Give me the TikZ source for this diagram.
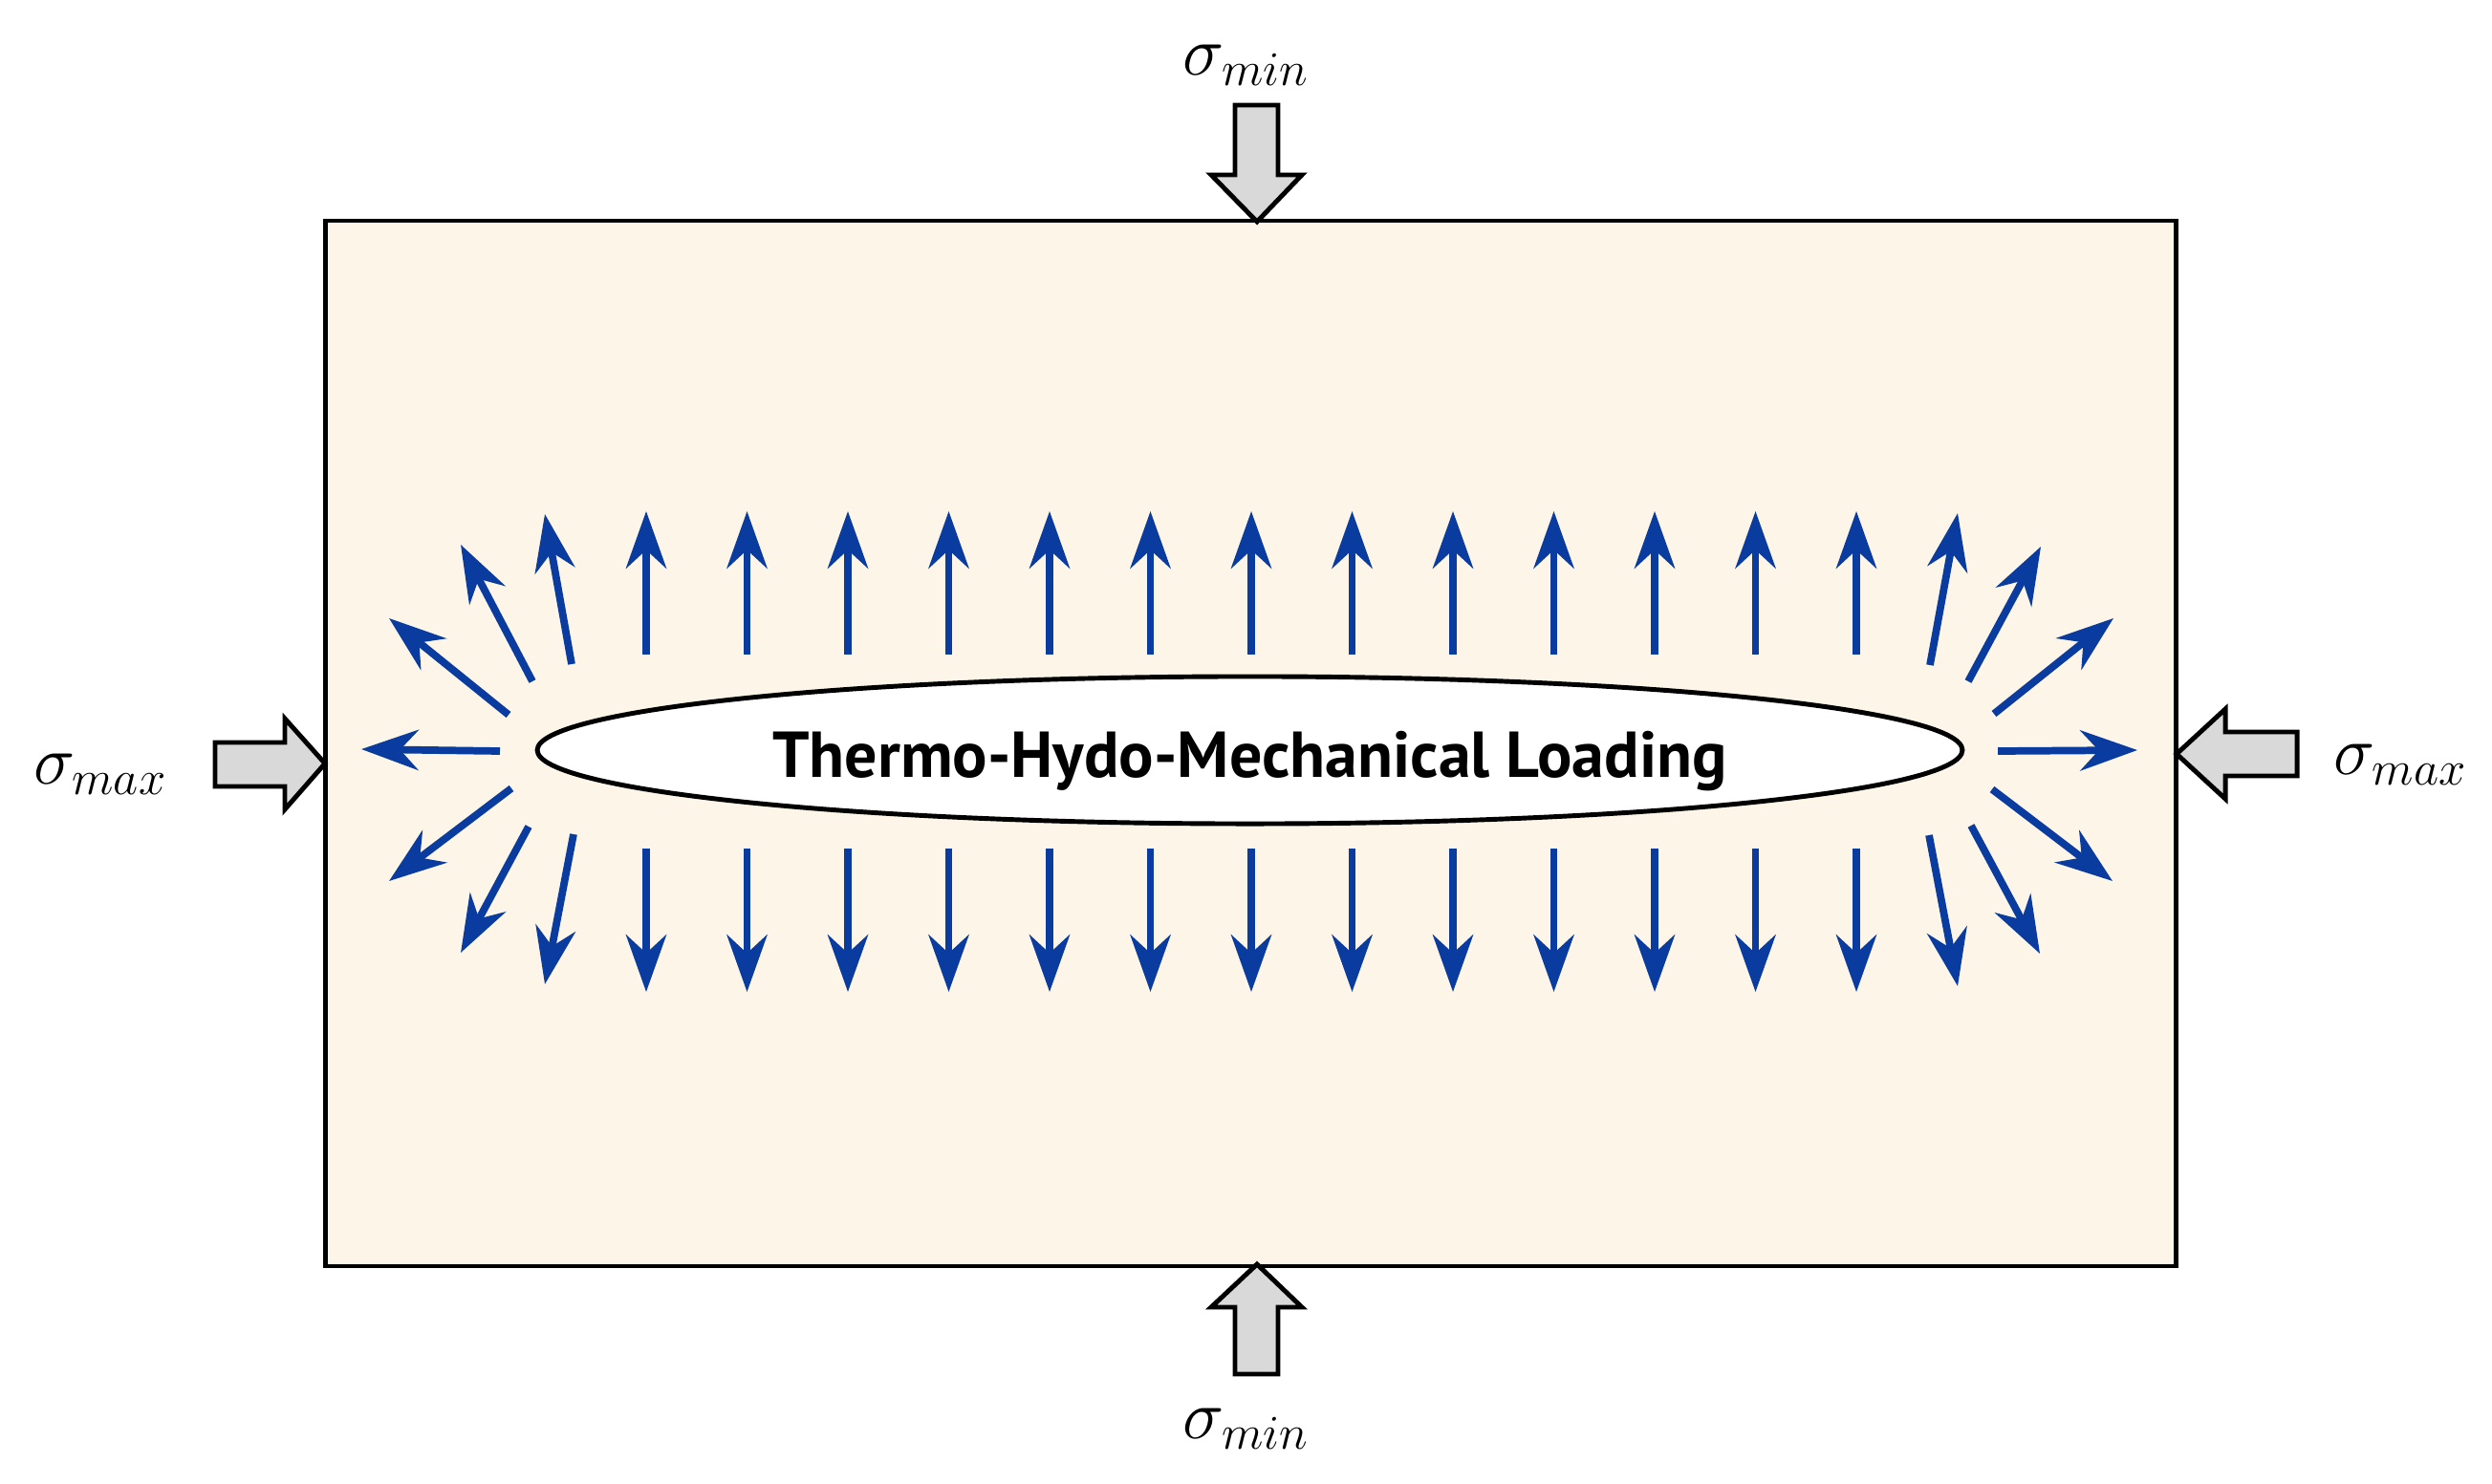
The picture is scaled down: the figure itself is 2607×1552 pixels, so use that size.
\documentclass[tikz,border=0pt]{standalone}
\usepackage{fontspec}
\newfontfamily\labelfont{PT Sans}
\usetikzlibrary{shapes.geometric,arrows.meta}
\definecolor{cream}{RGB}{253,246,232}
\definecolor{fluxblue}{RGB}{10,60,160}
\definecolor{blockgray}{RGB}{217,217,217}
\tikzset{
  fluxarrow/.style={draw=fluxblue,line width=2.2pt,-{Stealth[length=17pt,width=12pt,inset=5.5pt]}},
  blockarrow/.style={draw=black,fill=blockgray,line width=1.4pt,line join=miter},
  stresslabel/.style={font=\fontsize{20.5}{24}\selectfont,inner sep=0pt}
}
\begin{document}
\begin{tikzpicture}[x=0.01cm,y=-0.01cm]
\useasboundingbox (0,0) rectangle (2607,1552);
% domain
\node[draw=black,line width=1.3pt,fill=cream,minimum width=19.35cm,minimum height=10.93cm,inner sep=0pt] (box) at (1308.5,778) {};
% cavity
\node[ellipse,draw=black,line width=1.4pt,fill=white,minimum width=14.9cm,minimum height=1.54cm,inner sep=0pt] (cavity) at (1307.5,785) {};
\node[inner sep=0pt] (cavitytext) at (1307.5,797)
  {\labelfont\bfseries\fontsize{19.3}{23}\selectfont Thermo-Hydo-Mechanical Loading};
% grey block arrows
\draw[blockarrow] (1292,110) -- (1337,110) -- (1337,183) -- (1362,183) -- (1315,232) -- (1267,183) -- (1292,183) -- cycle;
\draw[blockarrow] (1292,1438) -- (1337,1438) -- (1337,1368) -- (1362,1368) -- (1315,1323) -- (1267,1368) -- (1292,1368) -- cycle;
\draw[blockarrow] (225,777) -- (298,777) -- (298,752) -- (340,799) -- (298,847) -- (298,823) -- (225,823) -- cycle;
\draw[blockarrow] (2403,766) -- (2328,766) -- (2328,742) -- (2277,789) -- (2328,836) -- (2328,812) -- (2403,812) -- cycle;
% labels
\node[stresslabel] (ltop) at (1304,68) {$\sigma_{min}$};
\node[stresslabel] (lbot) at (1304,1495) {$\sigma_{min}$};
\node[stresslabel] (lleft) at (105,810) {$\sigma_{max}$};
\node[stresslabel] (lright) at (2511,800) {$\sigma_{max}$};
% vertical flux arrows
\foreach \k in {0,...,12}{
  \pgfmathsetmacro{\xx}{676+105.5*\k}
  \coordinate (ut\k) at (\xx,685);
  \coordinate (uh\k) at (\xx,535);
  \coordinate (dt\k) at (\xx,888);
  \coordinate (dh\k) at (\xx,1038);
  \draw[fluxarrow] (ut\k) -- (uh\k);
  \draw[fluxarrow] (dt\k) -- (dh\k);
}
% left fan
\foreach \i/\ax/\ay/\bx/\by in {1/598/695/570/538, 2/557/713/482/570, 3/532/748/407/647, 4/523/786/378/784, 5/535/825/407/922, 6/553/865/482/997, 7/600/873/570/1030}{
  \coordinate (lt\i) at (\ax,\ay);
  \coordinate (lh\i) at (\bx,\by);
  \draw[fluxarrow] (lt\i) -- (lh\i);
}
% right fan
\foreach \i/\ax/\ay/\bx/\by in {1/2019/696/2048/537, 2/2059/713/2135/572, 3/2086/747/2211/647, 4/2090/786/2236/785, 5/2084/826/2210/922, 6/2062/864/2134/998, 7/2018/874/2048/1032}{
  \coordinate (rt\i) at (\ax,\ay);
  \coordinate (rh\i) at (\bx,\by);
  \draw[fluxarrow] (rt\i) -- (rh\i);
}
\end{tikzpicture}
\end{document}
